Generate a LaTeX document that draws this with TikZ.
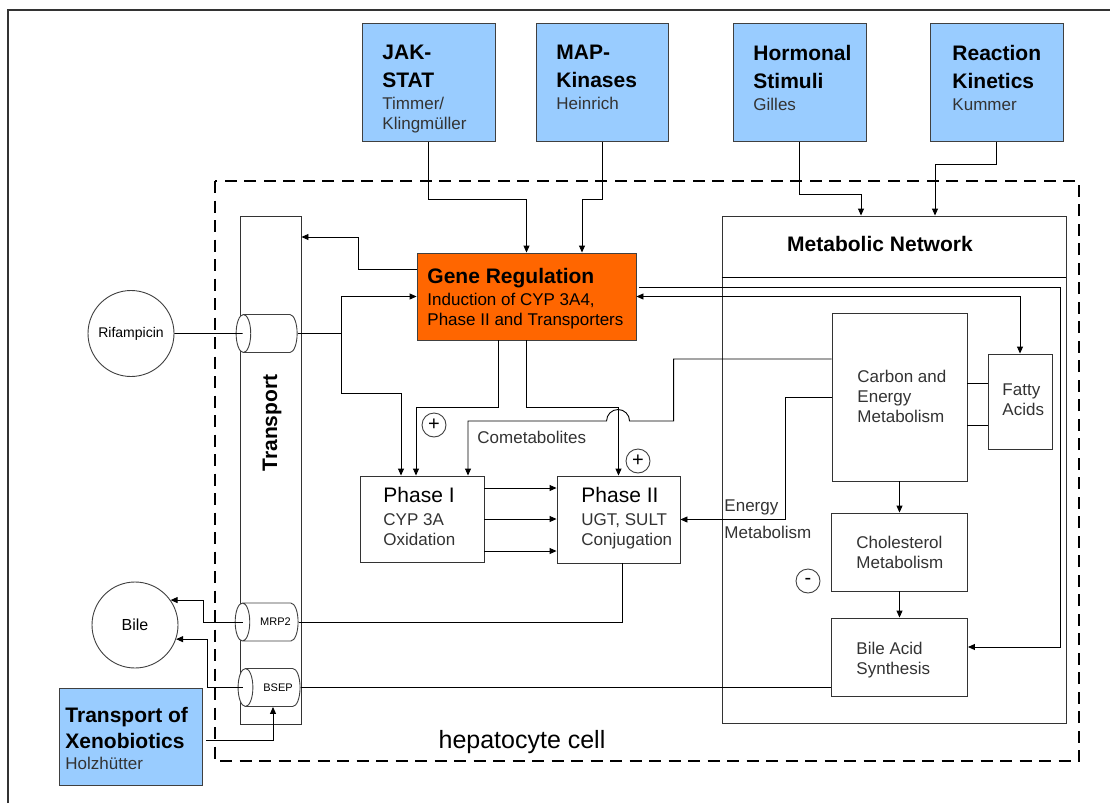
\documentclass[tikz,border=0pt]{standalone}
\usepackage{fontspec}
\setmainfont{Liberation Sans}
\usepackage{tikz}
\usetikzlibrary{shapes.geometric,arrows.meta}
\definecolor{skyblue}{HTML}{99CCFF}
\definecolor{geneorange}{HTML}{FF6600}
\newcommand\boxhead{\fontsize{21}{20}\selectfont\bfseries\color{black}}
\newcommand\boxbody{\fontsize{17}{20}\selectfont}

\begin{document}
\begin{tikzpicture}[x=1pt,y=-1pt,line width=0.9pt,
  srcbox/.style={draw=black!75,fill=skyblue,inner sep=0pt},
  plainbox/.style={draw=black!80,fill=white,inner sep=0pt},
  txt/.style={inner sep=0pt,align=left,anchor=north west,font=\boxbody,text=black!80},
  pipe/.style={cylinder,shape border rotate=180,aspect=1.9,draw=black!75,fill=white,
    minimum width=38pt,minimum height=61pt,inner sep=0pt,font=\fontsize{11}{13}\selectfont},
  sign/.style={circle,draw=black!75,minimum size=24pt,inner sep=0pt,font=\fontsize{20}{20}\selectfont},
  arr/.style={-{Triangle[length=7pt,width=6pt]}},
  dblarr/.style={{Triangle[length=7pt,width=6pt]}-{Triangle[length=7pt,width=6pt]}},
  cellwall/.style={line width=2.8pt,dash pattern=on 12pt off 7.5pt}]
\useasboundingbox (0,0) rectangle (1110,803);
\fill[white] (0,0) rectangle (1110,803);
\draw[line width=2pt,black!80] (7.5,803) -- (7.5,9.5) -- (1110,9.5);
\draw[cellwall] (215,181) rectangle (1079,761);

\node[srcbox,minimum width=133pt,minimum height=118pt] (jak) at (428.5,82.5) {};
\node[txt] (jakt) at (382,45) {{\boxhead JAK-}\\[8pt]{\boxhead STAT}\\[2pt]Timmer/\\Klingmüller};
\node[srcbox,minimum width=132pt,minimum height=118pt] (map) at (602,82.5) {};
\node[txt] (mapt) at (556,45) {{\boxhead MAP-}\\[8pt]{\boxhead Kinases}\\[2pt]Heinrich};
\node[srcbox,minimum width=133pt,minimum height=118pt] (horm) at (799.5,82.5) {};
\node[txt] (hormt) at (753,45) {{\boxhead Hormonal}\\[8pt]{\boxhead Stimuli}\\[2pt]Gilles};
\node[srcbox,minimum width=133pt,minimum height=118pt] (react) at (996.5,82.5) {};
\node[txt] (reactt) at (952,45) {{\boxhead Reaction}\\[8pt]{\boxhead Kinetics}\\[2pt]Kummer};

\node[plainbox,minimum width=61pt,minimum height=508pt] (trans) at (270.5,470) {};
\node[rotate=90,inner sep=0pt,font=\boxhead] (transt) at (272,423) {Transport};
\node[pipe] (rifpipe) at (270.5,333.5) {\vphantom{MRP2}};
\node[pipe] (mrp) at (270.5,622) {\hspace*{10pt}MRP2};
\node[pipe] (bsep) at (273,687.5) {\hspace*{10pt}BSEP};

\node[circle,draw=black!75,minimum size=86pt,inner sep=0pt,font=\fontsize{14}{16}\selectfont] (rif) at (131,333.5) {Rifampicin};
\node[circle,draw=black!75,minimum size=86pt,inner sep=0pt,font=\fontsize{16}{18}\selectfont] (bile) at (135,625) {Bile};

\node[srcbox,minimum width=143pt,minimum height=97pt] (xeno) at (130.5,736.5) {};
\node[txt] (xenot) at (65,707) {{\boxhead Transport of}\\[6pt]{\boxhead Xenobiotics}\\[1pt]Holzhütter};

\node[draw=black!75,fill=geneorange,inner sep=0pt,minimum width=219pt,minimum height=87pt] (gene) at (526.5,296.5) {};
\node[txt,text=black] (genet) at (427,268) {{\boxhead Gene Regulation}\\[2pt]Induction of CYP 3A4,\\Phase II and Transporters};

\node[plainbox,minimum width=124pt,minimum height=86pt] (ph1) at (422,519) {};
\node[txt] (ph1t) at (383,487) {{\fontsize{21}{20}\selectfont\color{black}Phase I}\\[3pt]CYP 3A\\Oxidation};
\node[plainbox,minimum width=123pt,minimum height=87pt] (ph2) at (618.5,519.5) {};
\node[txt] (ph2t) at (581,487) {{\fontsize{21}{20}\selectfont\color{black}Phase II}\\[3pt]UGT, SULT\\Conjugation};

\node[plainbox,minimum width=344pt,minimum height=507pt] (metnet) at (894,469.5) {};
\draw ([yshift=-62pt]metnet.north west) -- ([yshift=-62pt]metnet.north east);
\node[inner sep=0pt,font=\boxhead] (metnett) at (880,244) {Metabolic Network};

\node[plainbox,minimum width=135pt,minimum height=168pt] (carbon) at (899.5,397) {};
\node[txt] (carbont) at (857,370) {Carbon and\\Energy\\Metabolism};
\node[plainbox,minimum width=64pt,minimum height=95pt] (fatty) at (1020,401.5) {};
\node[txt] (fattyt) at (1002,383) {Fatty\\Acids};
\node[plainbox,minimum width=136pt,minimum height=78pt] (chol) at (899.5,552) {};
\node[txt] (cholt) at (856,536) {Cholesterol\\Metabolism};
\node[plainbox,minimum width=136pt,minimum height=78pt] (bileacid) at (899.5,657) {};
\node[txt] (bileacidt) at (856,642) {Bile Acid\\Synthesis};

\node[txt,anchor=base west] (cometab) at (477,443) {Cometabolites};
\node[txt] (energyt) at (724,499) {Energy\\[7pt]Metabolism};
\node[anchor=base,inner sep=0pt,font=\fontsize{25}{30}\selectfont] (cellt) at (522,748) {hepatocyte cell};

\node[sign] (plus1) at (434,425) {+};
\node[sign] (plus2) at (638,461) {+};
\node[sign] (minus1) at (808,581) {-};

\draw[arr] (jak.south) -- ++(0,57) -| (gene.north);
\draw[arr] (map.south) -- ++(0,57) -| ([xshift=55.5pt]gene.north);
\draw[arr] (horm.south) -- ++(0,52) -| ([xshift=-33pt]metnet.north);
\draw[arr] (react.south) -- ++(0,22) -| ([xshift=41pt]metnet.north);
\draw[arr] ([yshift=27.5pt]gene.west) -- ++(-58,0) |- ([yshift=233pt]trans.east);
\draw (rif.east) -- ([xshift=7pt]rifpipe.west);
\draw (rifpipe.east) -- ++(44,0) coordinate (split);
\draw[arr] (split) |- (gene.west);
\draw[arr] (split) -- ++(0,60) -| ([xshift=-21pt]ph1.north);
\draw[arr] ([xshift=-28.5pt]gene.south) -- ++(0,67) -| ([xshift=-6pt]ph1.north);
\draw[arr] (gene.south) -- ++(0,67) -| (ph2.north);
\draw[arr] ([yshift=38pt]carbon.west) -- ++(-158,0) -- ++(0,62) -- ++(-44,0)
  arc[start angle=0,end angle=180,radius=11.5pt] -| ([xshift=46pt]ph1.north);
\draw[arr] (carbon.west) -- ++(-46,0) |- (ph2.east);
\draw[arr] ([yshift=31pt]ph1.east) -- ([yshift=31pt]ph1.east -| ph2.west);
\draw[arr] (ph1.east) -- (ph1.east -| ph2.west);
\draw[arr] ([yshift=-32pt]ph1.east) -- ([yshift=-32pt]ph1.east -| ph2.west);
\draw ([xshift=3.5pt]ph2.south) |- (mrp.east);
\draw (bsep.east) -- (bsep.east -| bileacid.west);
\draw[arr] ([xshift=8pt]mrp.west) -- ++(-39,0) |- (bile.35);
\draw[arr] ([xshift=5pt]bsep.west) -- ++(-35,0) |- (bile.-19);
\draw[arr] ([shift={(4pt,-3.5pt)}]xeno.east) -| (bsep.south);
\draw[dblarr] (gene.east) -| (fatty.north);
\draw[arr] ([shift={(3pt,9.5pt)}]gene.east) -- ++(421,0) |- ([yshift=10pt]bileacid.east);
\draw[arr] (carbon.south) -- (chol.north);
\draw[arr] (chol.south) -- (bileacid.north);
\draw ([yshift=14pt]carbon.east) -- ([yshift=14pt]carbon.east -| fatty.west);
\draw ([yshift=-28pt]carbon.east) -- ([yshift=-28pt]carbon.east -| fatty.west);
\end{tikzpicture}
\end{document}
